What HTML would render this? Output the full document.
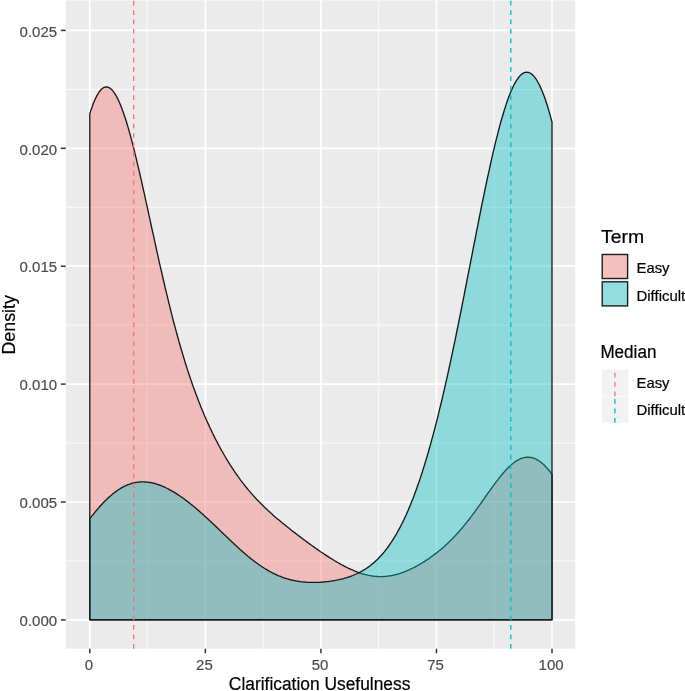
<!DOCTYPE html>
<html lang="en"><head><meta charset="utf-8"><title>Density plot</title>
<style>
html,body{margin:0;padding:0;background:#fff}
svg{display:block}
text{font-family:"Liberation Sans",sans-serif}
.tk{font-size:15px;fill:#4d4d4d;stroke:#4d4d4d;stroke-width:0.2px}
.tt{font-size:18px;fill:#000;stroke:#000;stroke-width:0.2px}
.lb{font-size:15px;fill:#000;stroke:#000;stroke-width:0.2px}
</style></head><body>
<svg width="685" height="691" viewBox="0 0 685 691">
<rect width="685" height="691" fill="#fff"/>
<rect x="65.7" y="0.4" width="509.5" height="648.3" fill="#ebebeb"/>
<g stroke="#fff" stroke-width="0.85">
<line x1="147.00" x2="147.00" y1="0.4" y2="648.7"/><line x1="263.12" x2="263.12" y1="0.4" y2="648.7"/><line x1="378.68" x2="378.68" y1="0.4" y2="648.7"/><line x1="494.23" x2="494.23" y1="0.4" y2="648.7"/><line x1="65.7" x2="575.2" y1="560.95" y2="560.95"/><line x1="65.7" x2="575.2" y1="443.05" y2="443.05"/><line x1="65.7" x2="575.2" y1="325.15" y2="325.15"/><line x1="65.7" x2="575.2" y1="207.25" y2="207.25"/><line x1="65.7" x2="575.2" y1="89.35" y2="89.35"/>
</g>
<g stroke="#fff" stroke-width="1.7">
<line x1="89.80" x2="89.80" y1="0.4" y2="648.7"/><line x1="205.35" x2="205.35" y1="0.4" y2="648.7"/><line x1="320.90" x2="320.90" y1="0.4" y2="648.7"/><line x1="436.45" x2="436.45" y1="0.4" y2="648.7"/><line x1="552.00" x2="552.00" y1="0.4" y2="648.7"/><line x1="65.7" x2="575.2" y1="619.90" y2="619.90"/><line x1="65.7" x2="575.2" y1="502.00" y2="502.00"/><line x1="65.7" x2="575.2" y1="384.10" y2="384.10"/><line x1="65.7" x2="575.2" y1="266.20" y2="266.20"/><line x1="65.7" x2="575.2" y1="148.30" y2="148.30"/><line x1="65.7" x2="575.2" y1="30.40" y2="30.40"/>
</g>
<path d="M89.8,619.7L89.8,113.6L91.0,110.0L92.2,106.7L93.3,103.6L94.5,100.7L95.6,98.2L96.8,95.9L98.0,93.8L99.1,92.0L100.3,90.5L101.4,89.3L102.6,88.3L103.7,87.6L104.9,87.1L106.1,86.9L107.2,87.0L108.4,87.3L109.5,87.9L110.7,88.7L111.9,89.7L113.0,91.1L114.2,92.6L115.3,94.4L116.5,96.4L117.6,98.6L118.8,101.0L120.0,103.7L121.1,106.5L122.3,109.6L123.4,112.8L124.6,116.2L125.8,119.8L126.9,123.5L128.1,127.4L129.2,131.4L130.4,135.6L131.5,139.9L132.7,144.4L133.9,148.9L135.0,153.6L136.2,158.3L137.3,163.2L138.5,168.1L139.7,173.1L140.8,178.2L142.0,183.3L143.1,188.5L144.3,193.7L145.4,198.9L146.6,204.2L147.8,209.5L148.9,214.8L150.1,220.1L151.2,225.5L152.4,230.8L153.6,236.1L154.7,241.4L155.9,246.7L157.0,251.9L158.2,257.1L159.3,262.3L160.5,267.4L161.7,272.5L162.8,277.5L164.0,282.5L165.1,287.5L166.3,292.3L167.5,297.2L168.6,301.9L169.8,306.6L170.9,311.2L172.1,315.8L173.2,320.3L174.4,324.7L175.6,329.1L176.7,333.3L177.9,337.5L179.0,341.7L180.2,345.7L181.4,349.7L182.5,353.6L183.7,357.5L184.8,361.3L186.0,365.0L187.1,368.6L188.3,372.2L189.5,375.7L190.6,379.1L191.8,382.5L192.9,385.8L194.1,389.0L195.3,392.2L196.4,395.3L197.6,398.3L198.7,401.3L199.9,404.3L201.0,407.2L202.2,410.0L203.4,412.8L204.5,415.5L205.7,418.2L206.8,420.8L208.0,423.4L209.2,425.9L210.3,428.4L211.5,430.8L212.6,433.2L213.8,435.6L214.9,437.9L216.1,440.2L217.3,442.4L218.4,444.6L219.6,446.8L220.7,448.9L221.9,451.0L223.1,453.0L224.2,455.0L225.4,457.0L226.5,458.9L227.7,460.8L228.8,462.7L230.0,464.6L231.2,466.4L232.3,468.2L233.5,469.9L234.6,471.6L235.8,473.3L237.0,475.0L238.1,476.6L239.3,478.2L240.4,479.8L241.6,481.3L242.7,482.9L243.9,484.3L245.1,485.8L246.2,487.3L247.4,488.7L248.5,490.1L249.7,491.4L250.8,492.8L252.0,494.1L253.2,495.4L254.3,496.7L255.5,498.0L256.6,499.2L257.8,500.4L259.0,501.6L260.1,502.8L261.3,504.0L262.4,505.1L263.6,506.3L264.7,507.4L265.9,508.5L267.1,509.6L268.2,510.7L269.4,511.7L270.5,512.8L271.7,513.8L272.9,514.9L274.0,515.9L275.2,516.9L276.3,517.9L277.5,518.9L278.6,519.8L279.8,520.8L281.0,521.8L282.1,522.7L283.3,523.7L284.4,524.6L285.6,525.6L286.8,526.5L287.9,527.4L289.1,528.3L290.2,529.2L291.4,530.2L292.5,531.1L293.7,532.0L294.9,532.9L296.0,533.7L297.2,534.6L298.3,535.5L299.5,536.4L300.7,537.3L301.8,538.1L303.0,539.0L304.1,539.9L305.3,540.7L306.4,541.6L307.6,542.4L308.8,543.3L309.9,544.1L311.1,545.0L312.2,545.8L313.4,546.6L314.6,547.4L315.7,548.3L316.9,549.1L318.0,549.9L319.2,550.7L320.3,551.5L321.5,552.3L322.7,553.0L323.8,553.8L325.0,554.6L326.1,555.4L327.3,556.1L328.5,556.9L329.6,557.6L330.8,558.3L331.9,559.0L333.1,559.8L334.2,560.5L335.4,561.2L336.6,561.8L337.7,562.5L338.9,563.2L340.0,563.8L341.2,564.5L342.4,565.1L343.5,565.7L344.7,566.3L345.8,566.9L347.0,567.5L348.1,568.1L349.3,568.6L350.5,569.2L351.6,569.7L352.8,570.2L353.9,570.7L355.1,571.2L356.3,571.6L357.4,572.1L358.6,572.5L359.7,572.9L360.9,573.3L362.0,573.6L363.2,574.0L364.4,574.3L365.5,574.6L366.7,574.9L367.8,575.2L369.0,575.4L370.2,575.6L371.3,575.8L372.5,576.0L373.6,576.2L374.8,576.3L375.9,576.4L377.1,576.5L378.3,576.5L379.4,576.6L380.6,576.6L381.7,576.6L382.9,576.6L384.1,576.5L385.2,576.4L386.4,576.3L387.5,576.2L388.7,576.0L389.8,575.9L391.0,575.7L392.2,575.5L393.3,575.2L394.5,575.0L395.6,574.7L396.8,574.4L397.9,574.0L399.1,573.7L400.3,573.3L401.4,572.9L402.6,572.5L403.7,572.1L404.9,571.6L406.1,571.2L407.2,570.7L408.4,570.2L409.5,569.7L410.7,569.1L411.8,568.6L413.0,568.0L414.2,567.4L415.3,566.8L416.5,566.2L417.6,565.5L418.8,564.9L420.0,564.2L421.1,563.5L422.3,562.8L423.4,562.1L424.6,561.4L425.7,560.6L426.9,559.8L428.1,559.1L429.2,558.3L430.4,557.5L431.5,556.6L432.7,555.8L433.9,554.9L435.0,554.1L436.2,553.2L437.3,552.2L438.5,551.3L439.6,550.4L440.8,549.4L442.0,548.4L443.1,547.4L444.3,546.4L445.4,545.4L446.6,544.3L447.8,543.2L448.9,542.1L450.1,541.0L451.2,539.8L452.4,538.7L453.5,537.5L454.7,536.3L455.9,535.0L457.0,533.8L458.2,532.5L459.3,531.2L460.5,529.9L461.7,528.5L462.8,527.1L464.0,525.7L465.1,524.3L466.3,522.9L467.4,521.4L468.6,520.0L469.8,518.5L470.9,516.9L472.1,515.4L473.2,513.9L474.4,512.3L475.6,510.7L476.7,509.1L477.9,507.5L479.0,505.9L480.2,504.3L481.3,502.6L482.5,501.0L483.7,499.3L484.8,497.7L486.0,496.0L487.1,494.4L488.3,492.7L489.5,491.1L490.6,489.5L491.8,487.9L492.9,486.3L494.1,484.7L495.2,483.1L496.4,481.6L497.6,480.1L498.7,478.6L499.9,477.1L501.0,475.7L502.2,474.3L503.4,472.9L504.5,471.6L505.7,470.3L506.8,469.1L508.0,467.9L509.1,466.8L510.3,465.7L511.5,464.6L512.6,463.7L513.8,462.8L514.9,461.9L516.1,461.1L517.3,460.4L518.4,459.8L519.6,459.2L520.7,458.7L521.9,458.2L523.0,457.9L524.2,457.6L525.4,457.4L526.5,457.2L527.7,457.2L528.8,457.2L530.0,457.3L531.2,457.5L532.3,457.7L533.5,458.1L534.6,458.5L535.8,459.0L536.9,459.6L538.1,460.3L539.3,461.0L540.4,461.9L541.6,462.8L542.7,463.8L543.9,464.8L545.1,466.0L546.2,467.2L547.4,468.4L548.5,469.8L549.7,471.2L550.8,472.7L552.0,474.3L552.0,619.7Z" fill="#f8766d" fill-opacity="0.4" stroke="#1a1a1a" stroke-width="1.35" stroke-linejoin="round"/>
<path d="M89.8,619.7L89.8,518.7L91.0,517.2L92.2,515.7L93.3,514.3L94.5,512.8L95.6,511.4L96.8,510.0L98.0,508.7L99.1,507.3L100.3,506.0L101.4,504.8L102.6,503.5L103.7,502.3L104.9,501.1L106.1,500.0L107.2,498.8L108.4,497.7L109.5,496.7L110.7,495.7L111.9,494.7L113.0,493.7L114.2,492.8L115.3,491.9L116.5,491.1L117.6,490.3L118.8,489.5L120.0,488.8L121.1,488.1L122.3,487.4L123.4,486.8L124.6,486.2L125.8,485.7L126.9,485.2L128.1,484.7L129.2,484.3L130.4,483.9L131.5,483.5L132.7,483.2L133.9,482.9L135.0,482.6L136.2,482.4L137.3,482.3L138.5,482.1L139.7,482.0L140.8,481.9L142.0,481.9L143.1,481.9L144.3,481.9L145.4,482.0L146.6,482.1L147.8,482.2L148.9,482.3L150.1,482.5L151.2,482.7L152.4,483.0L153.6,483.2L154.7,483.5L155.9,483.9L157.0,484.2L158.2,484.6L159.3,485.0L160.5,485.4L161.7,485.9L162.8,486.4L164.0,486.9L165.1,487.4L166.3,488.0L167.5,488.5L168.6,489.1L169.8,489.8L170.9,490.4L172.1,491.1L173.2,491.7L174.4,492.4L175.6,493.1L176.7,493.9L177.9,494.6L179.0,495.4L180.2,496.2L181.4,497.0L182.5,497.8L183.7,498.6L184.8,499.5L186.0,500.4L187.1,501.2L188.3,502.1L189.5,503.0L190.6,504.0L191.8,504.9L192.9,505.8L194.1,506.8L195.3,507.8L196.4,508.7L197.6,509.7L198.7,510.7L199.9,511.8L201.0,512.8L202.2,513.8L203.4,514.8L204.5,515.9L205.7,517.0L206.8,518.0L208.0,519.1L209.2,520.2L210.3,521.3L211.5,522.3L212.6,523.4L213.8,524.5L214.9,525.6L216.1,526.7L217.3,527.8L218.4,529.0L219.6,530.1L220.7,531.2L221.9,532.3L223.1,533.4L224.2,534.5L225.4,535.6L226.5,536.7L227.7,537.8L228.8,539.0L230.0,540.1L231.2,541.2L232.3,542.2L233.5,543.3L234.6,544.4L235.8,545.5L237.0,546.6L238.1,547.6L239.3,548.7L240.4,549.7L241.6,550.7L242.7,551.8L243.9,552.8L245.1,553.8L246.2,554.7L247.4,555.7L248.5,556.7L249.7,557.6L250.8,558.6L252.0,559.5L253.2,560.4L254.3,561.3L255.5,562.1L256.6,563.0L257.8,563.8L259.0,564.7L260.1,565.5L261.3,566.3L262.4,567.0L263.6,567.8L264.7,568.5L265.9,569.2L267.1,569.9L268.2,570.6L269.4,571.2L270.5,571.9L271.7,572.5L272.9,573.1L274.0,573.7L275.2,574.2L276.3,574.7L277.5,575.3L278.6,575.8L279.8,576.2L281.0,576.7L282.1,577.1L283.3,577.6L284.4,578.0L285.6,578.3L286.8,578.7L287.9,579.0L289.1,579.4L290.2,579.7L291.4,580.0L292.5,580.2L293.7,580.5L294.9,580.7L296.0,580.9L297.2,581.1L298.3,581.3L299.5,581.5L300.7,581.7L301.8,581.8L303.0,581.9L304.1,582.0L305.3,582.1L306.4,582.2L307.6,582.3L308.8,582.3L309.9,582.4L311.1,582.4L312.2,582.4L313.4,582.4L314.6,582.4L315.7,582.4L316.9,582.4L318.0,582.3L319.2,582.3L320.3,582.2L321.5,582.2L322.7,582.1L323.8,582.0L325.0,581.9L326.1,581.7L327.3,581.6L328.5,581.5L329.6,581.3L330.8,581.2L331.9,581.0L333.1,580.8L334.2,580.6L335.4,580.4L336.6,580.2L337.7,579.9L338.9,579.7L340.0,579.4L341.2,579.2L342.4,578.9L343.5,578.6L344.7,578.2L345.8,577.9L347.0,577.6L348.1,577.2L349.3,576.8L350.5,576.4L351.6,576.0L352.8,575.5L353.9,575.0L355.1,574.5L356.3,574.0L357.4,573.5L358.6,572.9L359.7,572.3L360.9,571.7L362.0,571.1L363.2,570.4L364.4,569.7L365.5,569.0L366.7,568.2L367.8,567.4L369.0,566.6L370.2,565.7L371.3,564.8L372.5,563.8L373.6,562.9L374.8,561.8L375.9,560.8L377.1,559.7L378.3,558.5L379.4,557.3L380.6,556.1L381.7,554.8L382.9,553.5L384.1,552.1L385.2,550.6L386.4,549.2L387.5,547.6L388.7,546.0L389.8,544.4L391.0,542.7L392.2,540.9L393.3,539.1L394.5,537.2L395.6,535.3L396.8,533.3L397.9,531.2L399.1,529.1L400.3,526.9L401.4,524.7L402.6,522.4L403.7,520.0L404.9,517.5L406.1,515.0L407.2,512.4L408.4,509.8L409.5,507.0L410.7,504.2L411.8,501.3L413.0,498.4L414.2,495.3L415.3,492.2L416.5,489.1L417.6,485.8L418.8,482.5L420.0,479.1L421.1,475.6L422.3,472.0L423.4,468.4L424.6,464.7L425.7,460.9L426.9,457.0L428.1,453.0L429.2,449.0L430.4,444.9L431.5,440.7L432.7,436.4L433.9,432.1L435.0,427.7L436.2,423.2L437.3,418.6L438.5,414.0L439.6,409.2L440.8,404.5L442.0,399.6L443.1,394.7L444.3,389.7L445.4,384.6L446.6,379.4L447.8,374.2L448.9,369.0L450.1,363.6L451.2,358.3L452.4,352.8L453.5,347.3L454.7,341.8L455.9,336.2L457.0,330.5L458.2,324.8L459.3,319.1L460.5,313.3L461.7,307.5L462.8,301.7L464.0,295.8L465.1,289.9L466.3,284.0L467.4,278.1L468.6,272.2L469.8,266.2L470.9,260.3L472.1,254.4L473.2,248.4L474.4,242.5L475.6,236.6L476.7,230.7L477.9,224.8L479.0,219.0L480.2,213.2L481.3,207.4L482.5,201.7L483.7,196.1L484.8,190.5L486.0,184.9L487.1,179.5L488.3,174.1L489.5,168.8L490.6,163.5L491.8,158.4L492.9,153.3L494.1,148.4L495.2,143.6L496.4,138.9L497.6,134.3L498.7,129.8L499.9,125.4L501.0,121.2L502.2,117.2L503.4,113.3L504.5,109.5L505.7,105.9L506.8,102.4L508.0,99.1L509.1,96.0L510.3,93.1L511.5,90.3L512.6,87.7L513.8,85.3L514.9,83.1L516.1,81.1L517.3,79.3L518.4,77.7L519.6,76.3L520.7,75.1L521.9,74.1L523.0,73.3L524.2,72.7L525.4,72.3L526.5,72.2L527.7,72.3L528.8,72.5L530.0,73.0L531.2,73.7L532.3,74.7L533.5,75.8L534.6,77.2L535.8,78.7L536.9,80.5L538.1,82.5L539.3,84.7L540.4,87.1L541.6,89.7L542.7,92.6L543.9,95.6L545.1,98.8L546.2,102.2L547.4,105.8L548.5,109.6L549.7,113.6L550.8,117.7L552.0,122.0L552.0,619.7Z" fill="#00bfc4" fill-opacity="0.4" stroke="#1a1a1a" stroke-width="1.35" stroke-linejoin="round"/>
<line x1="133.7" x2="133.7" y1="648.7" y2="0.4" stroke="#f8766d" stroke-width="1.35" stroke-dasharray="4.73 4.73"/>
<line x1="510.8" x2="510.8" y1="648.7" y2="0.4" stroke="#00bfc4" stroke-width="1.35" stroke-dasharray="4.73 4.73"/>
<g stroke="#333" stroke-width="1.5">
<line x1="89.80" x2="89.80" y1="648.7" y2="653.3"/><line x1="205.35" x2="205.35" y1="648.7" y2="653.3"/><line x1="320.90" x2="320.90" y1="648.7" y2="653.3"/><line x1="436.45" x2="436.45" y1="648.7" y2="653.3"/><line x1="552.00" x2="552.00" y1="648.7" y2="653.3"/><line x1="60.9" x2="65.7" y1="619.90" y2="619.90"/><line x1="60.9" x2="65.7" y1="502.00" y2="502.00"/><line x1="60.9" x2="65.7" y1="384.10" y2="384.10"/><line x1="60.9" x2="65.7" y1="266.20" y2="266.20"/><line x1="60.9" x2="65.7" y1="148.30" y2="148.30"/><line x1="60.9" x2="65.7" y1="30.40" y2="30.40"/>
</g>
<text class="tk" x="88.9" y="670" text-anchor="middle">0</text>
<text class="tk" x="204.4" y="670" text-anchor="middle">25</text>
<text class="tk" x="320.0" y="670" text-anchor="middle">50</text>
<text class="tk" x="435.6" y="670" text-anchor="middle">75</text>
<text class="tk" x="551.1" y="670" text-anchor="middle">100</text>
<text class="tk" x="57.1" y="626.1" text-anchor="end">0.000</text>
<text class="tk" x="57.1" y="508.2" text-anchor="end">0.005</text>
<text class="tk" x="57.1" y="390.3" text-anchor="end">0.010</text>
<text class="tk" x="57.1" y="272.4" text-anchor="end">0.015</text>
<text class="tk" x="57.1" y="154.5" text-anchor="end">0.020</text>
<text class="tk" x="57.1" y="36.6" text-anchor="end">0.025</text>
<text class="tt" x="319.6" y="690" text-anchor="middle" textLength="181.5" lengthAdjust="spacingAndGlyphs">Clarification Usefulness</text>
<text class="tt" transform="translate(14.8,324.8) rotate(-90)" text-anchor="middle" textLength="59.5" lengthAdjust="spacingAndGlyphs">Density</text>
<text class="tt" x="601" y="242.8" textLength="43.2" lengthAdjust="spacingAndGlyphs">Term</text>
<rect x="601.4" y="253" width="27" height="54" fill="#f2f2f2"/>
<rect x="602.2" y="254.5" width="25.4" height="24" fill="#f8766d" fill-opacity="0.4" stroke="#1a1a1a" stroke-width="1.35"/>
<rect x="602.2" y="281.8" width="25.4" height="24.1" fill="#00bfc4" fill-opacity="0.4" stroke="#1a1a1a" stroke-width="1.35"/>
<text class="lb" x="636.5" y="273.3" textLength="33" lengthAdjust="spacingAndGlyphs">Easy</text>
<text class="lb" x="636.5" y="300.7" textLength="48.7" lengthAdjust="spacingAndGlyphs">Difficult</text>
<text class="tt" x="600.4" y="358.4" textLength="56" lengthAdjust="spacingAndGlyphs">Median</text>
<rect x="602" y="369.7" width="26.4" height="26.6" fill="#f2f2f2"/>
<rect x="602" y="397.1" width="26.4" height="25.6" fill="#f2f2f2"/>
<line x1="614.9" x2="614.9" y1="396.3" y2="369.7" stroke="#f8766d" stroke-width="1.35" stroke-dasharray="4.73 4.73"/>
<line x1="614.9" x2="614.9" y1="422.7" y2="397.1" stroke="#00bfc4" stroke-width="1.35" stroke-dasharray="4.73 4.73"/>
<text class="lb" x="636.5" y="388.1" textLength="33" lengthAdjust="spacingAndGlyphs">Easy</text>
<text class="lb" x="636.5" y="415.2" textLength="48.7" lengthAdjust="spacingAndGlyphs">Difficult</text>
</svg>
</body></html>
